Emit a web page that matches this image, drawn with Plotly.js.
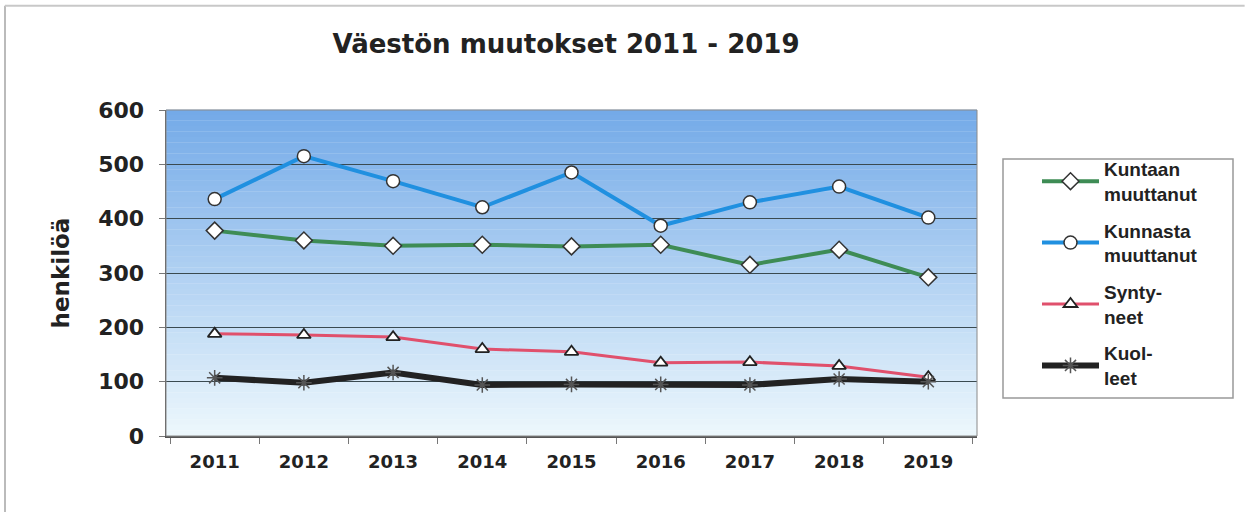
<!DOCTYPE html>
<html>
<head>
<meta charset="utf-8">
<script src="https://cdn.plot.ly/plotly-3.0.1.min.js"></script>
<style>html,body{margin:0;padding:0;background:#fff;}#chart{width:1245px;height:512px;}</style>
</head>
<body>
<div id="chart"></div>
<script>
const years = ['2011','2012','2013','2014','2015','2016','2017','2018','2019'];
const kuntaanMuuttanut = [378, 360, 350, 352, 349, 352, 315, 343, 292];
const kunnastaMuuttanut = [436, 515, 469, 421, 485, 387, 430, 459, 402];
const syntyneet = [188, 186, 182, 160, 155, 135, 136, 129, 108];
const kuolleet = [107, 98, 117, 94, 95, 95, 94, 105, 100];
const seriesNames = ['Kuntaan<br>muuttanut', 'Kunnasta<br>muuttanut', 'Synty-<br>neet', 'Kuol-<br>leet'];

const FONT = '"DejaVu Sans", "Liberation Sans", Arial, sans-serif';
const LFONT = '"Liberation Sans", Arial, sans-serif';

const traces = [
  {x: years, y: kuntaanMuuttanut, name: seriesNames[0], legendgroup: 'a', mode: 'lines+markers',
   line: {color: '#3e8c55', width: 4},
   marker: {symbol: 'diamond', size: 13, color: '#ffffff', line: {color: '#333', width: 1.5}}},
  {x: years, y: kunnastaMuuttanut, name: seriesNames[1], legendgroup: 'b', mode: 'lines+markers',
   line: {color: '#2090e0', width: 4},
   marker: {symbol: 'circle', size: 13, color: '#ffffff', line: {color: '#333', width: 1.5}}},
  {x: years, y: syntyneet, name: seriesNames[2], legendgroup: 'c', mode: 'lines+markers',
   line: {color: '#e0506c', width: 3},
   marker: {symbol: 'triangle-up', size: 12, color: '#ffffff', line: {color: '#222', width: 1.8}}},
  {x: years, y: kuolleet, name: seriesNames[3], legendgroup: 'd', mode: 'lines+markers',
   line: {color: '#222222', width: 6},
   marker: {symbol: 'asterisk-open', size: 13, color: '#555', line: {color: '#888', width: 1.5}}}
];

// gradient background strips
const shapes = [];
const N = 60;
const gradTop = [116, 170, 232], gradBot = [236, 247, 252];
for (let i = 0; i < N; i++) {
  const t = i / (N - 1);
  const c = gradTop.map((v, k) => Math.round(v + (gradBot[k] - v) * t));
  shapes.push({type: 'rect', xref: 'x domain', yref: 'y domain', x0: 0, x1: 1,
    y0: 1 - (i + 1) / N, y1: 1 - i / N + 0.001, fillcolor: `rgb(${c[0]},${c[1]},${c[2]})`,
    line: {width: 0}, layer: 'below'});
}
// plot border
shapes.push({type: 'rect', xref: 'x domain', yref: 'y domain', x0: 0, x1: 1, y0: 0, y1: 1,
  line: {color: '#8a8a8a', width: 1}, layer: 'above'});
// legend frame
shapes.push({type: 'rect', xref: 'paper', yref: 'paper', x0: 837/811, x1: 1067/811, y0: 38/326, y1: 277/326,
  line: {color: '#999', width: 1.5}, fillcolor: '#ffffff', layer: 'below'});
// outer frame lines
shapes.push({type: 'line', xref: 'paper', yref: 'paper', x0: -161/811, x1: -161/811, y0: -1, y1: 1.32,
  line: {color: '#bbbbbb', width: 2}});
shapes.push({type: 'line', xref: 'paper', yref: 'paper', x0: -161/811, x1: 1.33, y0: 1.32, y1: 1.32,
  line: {color: '#c8c8c8', width: 2}});

const layout = {
  width: 1245, height: 512,
  margin: {l: 166, r: 268, t: 110, b: 76},
  paper_bgcolor: '#ffffff',
  plot_bgcolor: 'rgba(0,0,0,0)',
  showlegend: true,
  title: {text: 'Väestön muutokset 2011 - 2019', x: 566/1245, xanchor: 'center', y: 0.915, yanchor: 'middle',
    font: {family: FONT, size: 26, weight: 'bold', color: '#222'}},
  xaxis: {type: 'category', showgrid: false, showline: true, linecolor: '#555', linewidth: 1.5,
    ticks: 'outside', tickson: 'boundaries', ticklen: 6, tickcolor: '#777', ticklabelstandoff: 9,
    tickfont: {family: FONT, size: 18, weight: 'bold', color: '#222'}, fixedrange: true},
  yaxis: {range: [0, 600], dtick: 100, showgrid: true, gridcolor: '#3a4a50', gridwidth: 1,
    showline: true, linecolor: '#555', linewidth: 1.5, ticks: 'outside', ticklen: 6, tickcolor: '#777',
    zeroline: false, ticklabelstandoff: 10,
    tickfont: {family: FONT, size: 22, weight: 'bold', color: '#222'},
    title: {text: 'henkilöä', standoff: 22, font: {family: FONT, size: 23, weight: 'bold', color: '#222'}}},
  legend: {x: 871/811, xanchor: 'left', y: 286/326, yanchor: 'top', borderwidth: 0,
    bgcolor: 'rgba(0,0,0,0)', font: {family: LFONT, size: 19, weight: 'bold', color: '#222'}, itemwidth: 57,
    tracegroupgap: 9, traceorder: 'grouped'},
  shapes: shapes
};

Plotly.newPlot('chart', traces, layout, {staticPlot: true, displayModeBar: false});
</script>
</body>
</html>
